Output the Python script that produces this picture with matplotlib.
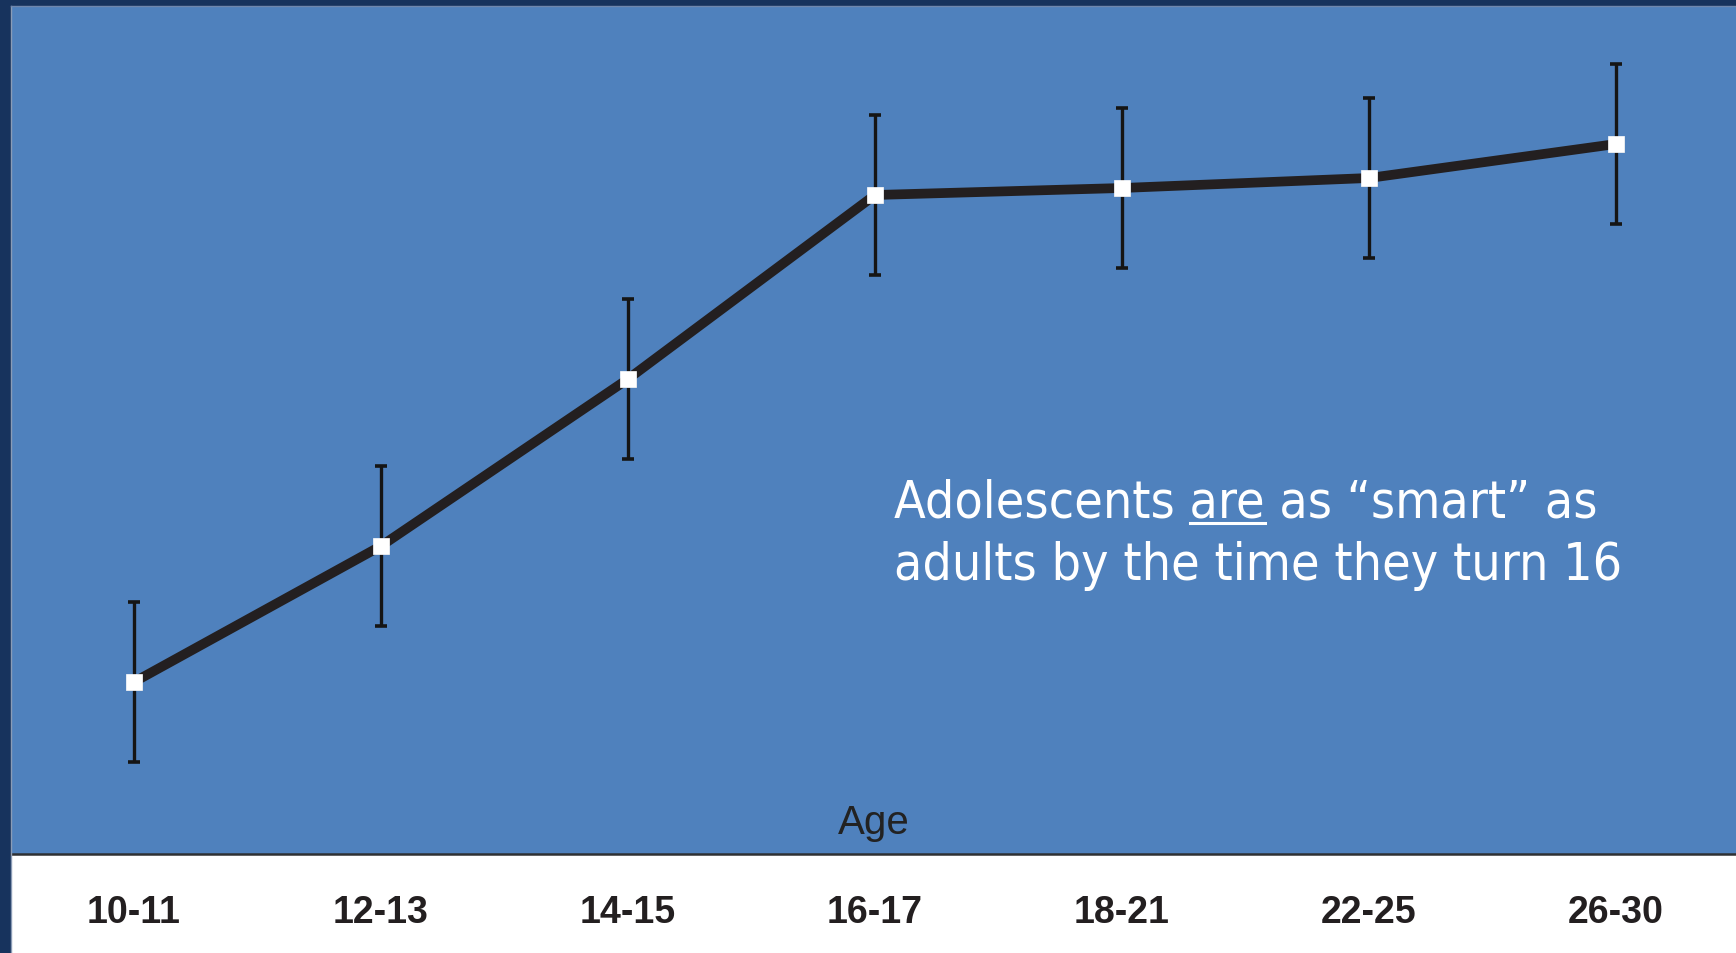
import matplotlib
matplotlib.use('Agg')
import matplotlib.pyplot as plt
from matplotlib.patches import Rectangle
from matplotlib.lines import Line2D
import matplotlib.patheffects as pe

# ---- data ----
categories = ['10-11', '12-13', '14-15', '16-17', '18-21', '22-25', '26-30']
scores = [172, 308, 475, 659, 666, 676, 710]
errors = [80, 80, 80, 80, 80, 80, 80]
x_label = 'Age'
note_line1 = 'Adolescents are as \u201csmart\u201d as'
note_line2 = 'adults by the time they turn 16'
underlined_word = 'are'

W, H = 1736, 954
fig = plt.figure(figsize=(W / 100, H / 100), dpi=100)
fig.patch.set_facecolor('#17335d')

# white strip under the plot
fig.add_artist(Rectangle((11 / W, 0), 1 - 11 / W, 99 / H, transform=fig.transFigure,
                         facecolor='white', edgecolor='none', zorder=0))
# light edge lines of the panel
fig.add_artist(Line2D([10.5 / W, 10.5 / W], [0, 947.5 / H], transform=fig.transFigure,
                      color='#8a9bb5', lw=1.0))
fig.add_artist(Line2D([10.5 / W, 1], [947.5 / H, 947.5 / H], transform=fig.transFigure,
                      color='#6f87ad', lw=1.0))

ax = fig.add_axes([11 / W, 99 / H, 1725 / W, 848 / H])
ax.set_facecolor('#4f81bd')
ax.set_xlim(-0.498, 6.486)
ax.set_ylim(0, 848)
for s in ['top', 'left', 'right']:
    ax.spines[s].set_visible(False)
ax.spines['bottom'].set_color('#2e3033')
ax.spines['bottom'].set_linewidth(1.8)
ax.set_yticks([])

xs = list(range(len(categories)))
ax.errorbar(xs, scores, yerr=errors, fmt='none', ecolor='#151515', elinewidth=2.4,
            capsize=4.3, capthick=2.6, zorder=2)
ax.plot(xs, scores, color='#231f20', lw=7, solid_capstyle='butt', zorder=3)
ax.plot(xs, scores, linestyle='none', marker='s', markersize=11.5, markerfacecolor='white',
        markeredgecolor='white', markeredgewidth=0.5, zorder=4,
        path_effects=[pe.SimplePatchShadow(offset=(1, -1), alpha=0.35), pe.Normal()])

ax.set_xticks(xs, categories)
ax.tick_params(axis='x', length=0, pad=29, labelsize=27, labelcolor='#231f20')
for lab in ax.get_xticklabels():
    lab.set_fontweight('bold')
    lab.set_family(['Liberation Sans', 'DejaVu Sans'])

ax.text(0.5, (855 - 834) / 848, x_label, transform=ax.transAxes, ha='center', va='baseline',
        fontsize=29, color='#222222', family=['Liberation Sans', 'DejaVu Sans'])

note_kw = dict(transform=ax.transAxes, ha='left', va='baseline', fontsize=37.2, color='white',
               family=['DejaVu Sans'], fontstretch='condensed')
x0 = (894 - 11) / 1725
y1 = (855 - 517) / 848
y2 = (855 - 580) / 848
t1 = ax.text(x0, y1, note_line1, **note_kw)
t2 = ax.text(x0, y2, note_line2, **note_kw)

# underline the word
renderer = fig.canvas.get_renderer()
idx = note_line1.index(underlined_word) + len(underlined_word)
tmp_a = ax.text(x0, y1, note_line1[:idx], **note_kw)
tmp_b = ax.text(x0, y1, underlined_word, **note_kw)
ea = tmp_a.get_window_extent(renderer)
eb = tmp_b.get_window_extent(renderer)
tmp_a.remove()
tmp_b.remove()
inv = ax.transAxes.inverted()
(ux1, _), = inv.transform([[ea.x1 - eb.width, 0]])
(ux2, _), = inv.transform([[ea.x1, 0]])
uy = (855 - 524) / 848
ax.add_line(Line2D([ux1, ux2], [uy, uy], transform=ax.transAxes, color='white', lw=2.2))

fig.savefig('out.png', dpi=100, facecolor=fig.get_facecolor())
